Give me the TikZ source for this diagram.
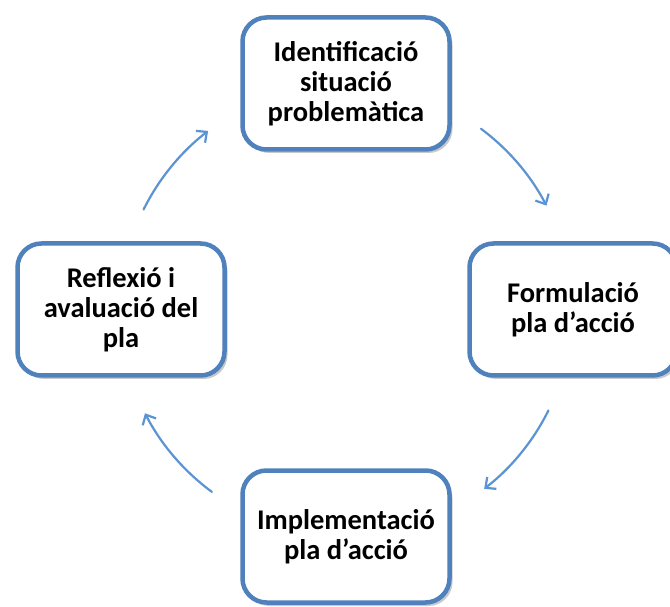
\documentclass[tikz,border=0pt]{standalone}
\usepackage{fontspec}
\setmainfont{Carlito}
\usetikzlibrary{shadows,arrows.meta}
\definecolor{boxblue}{HTML}{4F81BD}
\definecolor{arrblue}{HTML}{5B93D3}
\tikzset{
  stagebox/.style={draw=boxblue, line width=4.5pt, fill=white, rounded corners=24pt,
    minimum width=207pt, minimum height=132pt, align=center, text=black,
    font=\fontsize{28.5}{30}\selectfont\bfseries,
    drop shadow={shadow xshift=3pt, shadow yshift=-3.5pt, opacity=0.35, fill=black!60}},
  cyclearrow/.style={draw=arrblue, line width=2.2pt, line cap=round,
    -{Straight Barb[length=8pt,width=15pt,line width=2.2pt]}}
}
\begin{document}
\begin{tikzpicture}[x=1pt,y=1pt]
\useasboundingbox (0,0) rectangle (670,606);
\fill[white] (0,0) rectangle (670,606);
\node[stagebox] (top) at (346,522.5) {Identificació\\situació\\problemàtica};
\node[stagebox] (right) at (573,296.5) {Formulació\\pla d’acció};
\node[stagebox] (bottom) at (346,69.5) {Implementació\\pla d’acció};
\node[stagebox] (left) at (121,296.5) {Reflexió i\\avaluació del\\pla};
\coordinate (c) at (346,296);
\coordinate (a1) at ([shift={(53.3:226)}]c);
\coordinate (a2) at ([shift={(-26.4:226)}]c);
\coordinate (a3) at ([shift={(233.6:226)}]c);
\coordinate (a4) at ([shift={(153.6:226)}]c);
\draw[cyclearrow] (a1) arc[start angle=53.3, end angle=27.5, radius=226pt];
\draw[cyclearrow] (a2) arc[start angle=-26.4, end angle=-52.3, radius=226pt];
\draw[cyclearrow] (a3) arc[start angle=233.6, end angle=207.2, radius=226pt];
\draw[cyclearrow] (a4) arc[start angle=153.6, end angle=127.6, radius=226pt];
\end{tikzpicture}
\end{document}
